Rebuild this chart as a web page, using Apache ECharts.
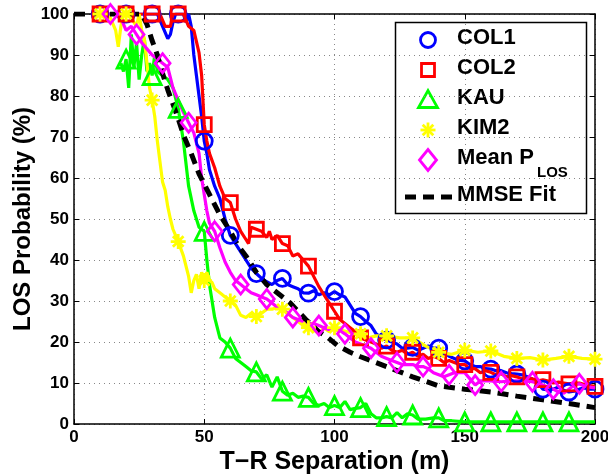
<!DOCTYPE html>
<html><head><meta charset="utf-8">
<script src="https://cdn.jsdelivr.net/npm/echarts@6/dist/echarts.min.js"></script>
<style>html,body{margin:0;padding:0;background:#fff}#c{width:608px;height:474px}</style>
</head><body><div id="c"></div>
<script>
// ---- data (distance m, LOS probability %) ----
const xTicks = [0, 50, 100, 150, 200];
const yTicks = [0, 10, 20, 30, 40, 50, 60, 70, 80, 90, 100];

const COL1 = [[10,100],[20,100],[30,100],[32,100],[34,97],[36,94],[37,95],[38,98],[39,100],[40,100],[42,100],[43,98],[44,100],[45,97],[46,90],[47,85],[48,80],[49,75],[50,69],[51,66],[52,62],[54,58],[56,55],[58,50],[60,46],[62,44],[64,42],[66,40],[68,38],[70,36.7],[72,35.5],[74,34.7],[76,34],[78,35],[80,35.5],[82,34],[84,33.5],[86,33],[88,32],[90,31.9],[92,32.5],[94,31.5],[96,32],[98,31.5],[100,32.3],[102,31.5],[104,31],[106,29],[108,27],[110,26.2],[112,25],[114,24],[116,22],[118,21],[120,20.5],[122,20],[124,19.5],[126,18.5],[128,18.5],[130,18.7],[132,18],[134,18.5],[136,19],[138,18.5],[140,18.5],[142,17.5],[144,16.5],[146,16],[148,15.5],[150,15.4],[152,14.5],[154,14],[156,14],[158,13.5],[160,13.4],[162,13],[164,13],[166,12.5],[168,12.3],[170,12.2],[172,12],[174,11.5],[176,11],[178,10],[180,8.5],[182,8.3],[184,8.5],[186,9],[188,8.2],[190,7.8],[192,8],[194,8.5],[196,8.8],[198,8.5],[200,8.5]];
const COL2 = [[10,100],[20,100],[30,100],[33,100],[35,97],[37,97],[38,100],[40,100],[42,100],[44,97],[46,96],[48,90.5],[49,85],[50,73],[51,69],[52,66],[54,62.5],[56,58],[58,55],[60,54],[62,50],[64,47],[66,45],[67,44],[68,48],[70,47.5],[72,47],[74,45.5],[75,47],[76,45],[78,46],[80,44],[82,43.5],[84,41],[86,41.5],[88,40],[90,38.5],[92,36],[94,33.5],[96,31.5],[98,29.5],[100,27.5],[102,25.5],[104,24.5],[106,23.5],[108,22.5],[110,21],[112,20.5],[114,20],[116,19.5],[118,18.5],[120,19],[122,18],[124,17.5],[126,18],[128,17],[130,17.5],[132,16.5],[134,17],[136,16],[138,16.5],[140,16],[142,15],[144,15.5],[146,15],[148,14.5],[150,14.5],[152,13.5],[154,13.5],[156,12.5],[158,13],[160,12.6],[162,12],[164,12.3],[166,11.5],[168,11.8],[170,11.5],[172,11],[174,11.2],[176,11],[178,10.5],[180,10.8],[182,10.5],[184,10],[186,10.2],[188,10],[190,9.8],[192,10],[194,10],[196,9.6],[198,9.4],[200,9.2]];
const KAU = [[18,88],[19,86],[20,89],[21,82],[22,95],[23,87],[24,93],[25,84],[26,90],[27,94],[28,86],[29,88],[30,85],[31,90],[32,86],[34,85],[36,84],[38,82],[40,77],[42,69],[44,58],[46,52],[48,48],[50,47],[51,40],[52,34],[54,26],[56,21],[58,20],[60,18.5],[62,16],[64,15],[66,14],[68,13],[70,12.7],[72,11],[74,12],[76,9],[78,11.5],[80,8],[82,7],[84,7.5],[86,6.5],[88,6.8],[90,6.5],[92,5],[94,4.5],[96,5],[98,4],[100,4.5],[102,4],[104,5.5],[106,3.5],[108,3.8],[110,4],[112,5],[114,2.5],[116,1.5],[118,1.5],[120,1.8],[122,1.5],[124,2.8],[126,1.5],[128,2.5],[130,2.2],[132,1.2],[135,1.2],[138,1.5],[140,1.5],[142,0.8],[145,0.8],[150,0.5],[160,0.5],[170,0.5],[180,0.5],[190,0.5],[200,0.5]];
const KIM2 = [[10,100],[12,100],[14,99],[16,96],[17,92],[18,97],[19,100],[20,100],[22,99],[24,97],[25,100],[26,96],[27,94],[28,88],[29,82],[30,79],[31,75],[32,69],[33,64],[34,59],[35,57],[36,53],[37,50],[38,47.5],[40,44.5],[42,41],[44,36],[45,32],[46,35],[47,36.5],[48,33],[49,37],[50,35],[51,37],[52,35],[53,34.5],[54,33],[56,32],[58,31],[60,30],[62,29],[64,26.5],[66,26],[68,27],[70,26.2],[72,27],[74,28],[76,28],[78,28.5],[80,28],[82,27],[84,26],[86,25],[88,24],[90,23.5],[92,23],[94,22],[96,23.5],[98,22.5],[100,23.5],[102,23],[105,22.5],[108,21.8],[110,22],[113,21],[116,21.5],[120,21.5],[125,21],[130,21],[135,19],[140,17.5],[145,17],[150,18],[155,17.5],[160,17.8],[165,16.5],[170,16],[175,16.2],[180,15.6],[185,16],[190,16.5],[195,16],[200,15.8]];
const MEAN = [[10,100],[12,100],[14,100],[16,100],[18,99],[20,96],[22,97],[24,95],[26,93],[28,91.5],[30,90],[32,89],[34,88],[36,87],[38,82],[40,79],[42,76],[44,73.5],[46,71],[48,66],[49,60],[50,56],[51,52],[52,49],[54,47],[56,43],[58,39.5],[60,37],[62,35],[64,34],[66,33],[68,32],[70,31.5],[72,31],[74,30.5],[76,29.5],[78,28.5],[80,28],[82,27],[84,26],[86,25.5],[88,25],[90,24.5],[92,24.5],[94,24],[96,23.5],[98,23],[100,23],[102,22.8],[104,22],[106,21],[108,20],[110,19.5],[112,19],[114,18.5],[116,17.5],[118,16.5],[120,16],[122,15.5],[124,15],[126,14.5],[128,14.5],[130,14.5],[132,14],[134,14],[136,13.5],[138,12.5],[140,12],[142,11.5],[144,12],[146,12.5],[148,12.5],[150,12.5],[152,11],[154,9.5],[156,10.5],[158,10.5],[160,10.5],[164,10.3],[168,10.5],[172,10.5],[176,10.3],[180,9.5],[184,8.5],[186,7.8],[188,7.5],[190,8.5],[192,9.5],[194,9.8],[196,9.2],[198,9],[200,8.8]];
const MMSE = [[0,100],[5,100],[10,100],[15,100],[20,100],[26,100],[28,97.5],[30,93.5],[32,90],[34,85.5],[36,81.5],[38,78],[40,74.5],[42,70.5],[45,66],[48,61],[52,56],[56,51],[60,47],[63,43.5],[66,41],[70,37],[74,34],[78,32],[83,29.5],[89,25.5],[94,22.5],[97,21.3],[101,19.2],[106,17.5],[110,16.4],[120,14],[130,11.5],[140,9.3],[150,8.5],[160,7.8],[170,6.8],[180,5.9],[190,5],[200,4]];

// marker positions (x in m)
const COL1_MARKS = [10,20,30,40,50,60,70,80,90,100,110,120,130,140,150,160,170,180,190,200];
const COL2_MARKS = [10,20,30,40,50,60,70,80,90,100,110,120,130,140,150,160,170,180,190,200];
const KAU_MARKS  = [20,30,40,50,60,70,80,90,100,110,120,130,140,150,160,170,180,190];
const KIM2_MARKS = [10,20,30,40,50,60,70,80,90,100,110,120,130,140,150,160,170,180,190,200];
const MEAN_MARKS = [14,24,34,44,54,64,74,84,94,104,114,124,134,144,154,164,176,184,194];

const names = ['COL1','COL2','KAU','KIM2','Mean P_LOS','MMSE Fit'];
</script>
<script>
const FONT = '"Liberation Sans", Arial, Helvetica, sans-serif';
const ASTER = 'path://M0,-10L0,10M-10,0L10,0M-7.07,-7.07L7.07,7.07M-7.07,7.07L7.07,-7.07';

function withMarks(data, marks, symbol, size) {
  return data.map(p => marks.indexOf(p[0]) >= 0
    ? { value: p, symbol: symbol, symbolSize: size }
    : { value: p, symbol: 'none' });
}
function lineSeries(name, data, marks, symbol, size, color) {
  return {
    name, type: 'line', data: withMarks(data, marks, symbol, size),
    symbol: symbol, showSymbol: true, smooth: false, animation: false,
    clip: true,
    lineStyle: { color: color, width: 3.2 },
    itemStyle: { color: 'rgba(0,0,0,0)', borderColor: color, borderWidth: 2.8 }
  };
}

const chart = echarts.init(document.getElementById('c'), null, { renderer: 'canvas' });

const axisCommon = {
  type: 'value',
  axisLine: { show: true, onZero: false, lineStyle: { color: '#000', width: 1.5 } },
  axisTick: { show: true, inside: true, length: 5, lineStyle: { color: '#000', width: 1 } },
  splitLine: { show: false }
};

// legend drawn with graphic elements
const LX = 428, TX = 457;
const rows = [40, 70, 100, 130, 160, 197];
const LF = 22;
const ctx = document.createElement('canvas').getContext('2d');
ctx.font = 'bold ' + LF + 'px ' + FONT;
const meanW = ctx.measureText('Mean P').width;
const txt = (t, x, y, size) => ({ type: 'text', left: x, top: y - size * 0.58, style: { text: t, fill: '#000', font: 'bold ' + size + 'px ' + FONT } });
const legendEls = [
  { type: 'rect', shape: { x: 395.5, y: 22.5, width: 191, height: 191 }, style: { fill: '#fff', stroke: '#000', lineWidth: 1.5 } },
  { type: 'circle', shape: { cx: LX, cy: rows[0], r: 7.5 }, style: { fill: 'none', stroke: '#0000ff', lineWidth: 2.8 } },
  { type: 'rect', shape: { x: LX - 6.5, y: rows[1] - 6.5, width: 13, height: 13 }, style: { fill: 'none', stroke: '#ff0000', lineWidth: 2.8 } },
  { type: 'polygon', shape: { points: [[LX - 9.5, rows[2] + 7.5], [LX + 9.5, rows[2] + 7.5], [LX, rows[2] - 9.5]] }, style: { fill: 'none', stroke: '#00ff00', lineWidth: 2.8 } },
  { type: 'line', shape: { x1: LX, y1: rows[3] - 7.5, x2: LX, y2: rows[3] + 7.5 }, style: { stroke: '#ffff00', lineWidth: 2.8 } },
  { type: 'line', shape: { x1: LX - 7.5, y1: rows[3], x2: LX + 7.5, y2: rows[3] }, style: { stroke: '#ffff00', lineWidth: 2.8 } },
  { type: 'line', shape: { x1: LX - 5.3, y1: rows[3] - 5.3, x2: LX + 5.3, y2: rows[3] + 5.3 }, style: { stroke: '#ffff00', lineWidth: 2.8 } },
  { type: 'line', shape: { x1: LX - 5.3, y1: rows[3] + 5.3, x2: LX + 5.3, y2: rows[3] - 5.3 }, style: { stroke: '#ffff00', lineWidth: 2.8 } },
  { type: 'polygon', shape: { points: [[LX - 8.5, rows[4]], [LX, rows[4] - 10.5], [LX + 8.5, rows[4]], [LX, rows[4] + 10.5]] }, style: { fill: 'none', stroke: '#ff00ff', lineWidth: 2.8 } },
  { type: 'line', shape: { x1: 405, y1: rows[5], x2: 452, y2: rows[5] }, style: { stroke: '#000', lineWidth: 5, lineDash: [11, 7] } },
  txt('COL1', TX, rows[0], LF),
  txt('COL2', TX, rows[1], LF),
  txt('KAU', TX, rows[2], LF),
  txt('KIM2', TX, rows[3], LF),
  txt('Mean P', TX, rows[4], LF),
  txt('LOS', TX + meanW + 3, rows[4] + 14, 15),
  txt('MMSE Fit', TX, rows[5], LF)
];

const option = {
  animation: false,
  backgroundColor: '#fff',
  grid: { left: 74, right: 13, top: 14, bottom: 50, containLabel: false, outerBoundsMode: 'none' },
  xAxis: [
    Object.assign({}, axisCommon, {
      min: xTicks[0], max: xTicks[xTicks.length - 1], interval: 50, position: 'bottom',
      axisLabel: { color: '#000', fontWeight: 'bold', fontSize: 17, fontFamily: FONT, margin: 5 },
      splitLine: { show: true, lineStyle: { color: '#888', width: 1, type: [1, 4] } },
      name: 'T\u2212R Separation (m)', nameLocation: 'middle', nameGap: 26, nameMoveOverlap: false,
      nameTextStyle: { color: '#000', fontWeight: 'bold', fontSize: 25, fontFamily: FONT, verticalAlign: 'top' }
    }),
    Object.assign({}, axisCommon, {
      min: xTicks[0], max: xTicks[xTicks.length - 1], interval: 50, position: 'top',
      axisLabel: { show: false }
    })
  ],
  yAxis: [
    Object.assign({}, axisCommon, {
      min: yTicks[0], max: yTicks[yTicks.length - 1], interval: 10, position: 'left',
      axisLabel: { color: '#000', fontWeight: 'bold', fontSize: 17, fontFamily: FONT, margin: 5 },
      splitLine: { show: true, lineStyle: { color: '#888', width: 1, type: [1, 4] } },
      name: 'LOS Probability (%)', nameLocation: 'middle', nameGap: 39, nameMoveOverlap: false,
      nameTextStyle: { color: '#000', fontWeight: 'bold', fontSize: 24, fontFamily: FONT }
    }),
    Object.assign({}, axisCommon, {
      min: yTicks[0], max: yTicks[yTicks.length - 1], interval: 10, position: 'right',
      axisLabel: { show: false }
    })
  ],
  series: [
    lineSeries(names[0], COL1, COL1_MARKS, 'circle', 16, '#0000ff'),
    lineSeries(names[1], COL2, COL2_MARKS, 'rect', 14, '#ff0000'),
    lineSeries(names[2], KAU, KAU_MARKS, 'triangle', 18, '#00ff00'),
    lineSeries(names[3], KIM2, KIM2_MARKS, ASTER, 15, '#ffff00'),
    lineSeries(names[4], MEAN, MEAN_MARKS, 'diamond', [15, 19], '#ff00ff'),
    {
      name: names[5], type: 'line', data: MMSE, symbol: 'none', showSymbol: false, animation: false,
      lineStyle: { color: '#000', width: 5, type: [11, 7] }, z: 3
    }
  ],
  graphic: { elements: legendEls }
};
chart.setOption(option);
</script>
</body></html>
